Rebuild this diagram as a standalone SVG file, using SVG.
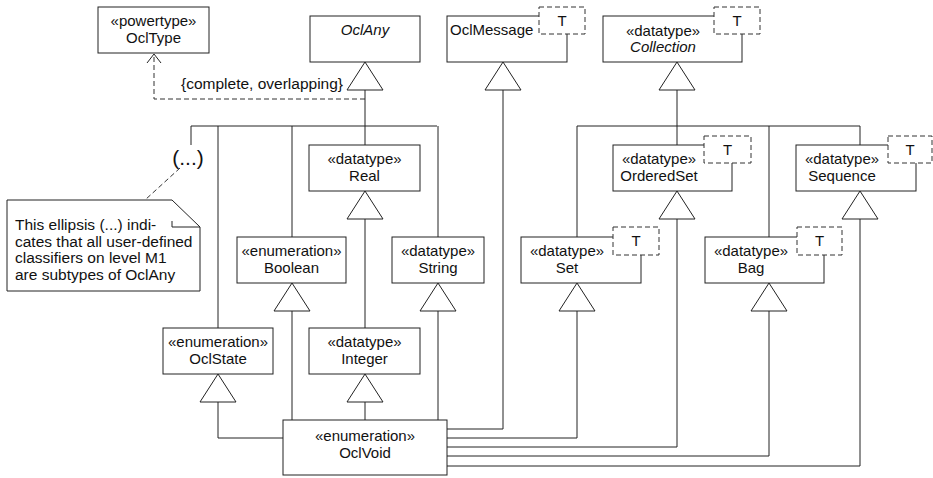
<svg xmlns="http://www.w3.org/2000/svg" width="933" height="478" viewBox="0 0 933 478">
<style>
.box{fill:#fff;stroke:#222;stroke-width:1}
.tb{fill:#fff;stroke:#333;stroke-width:1;stroke-dasharray:5,3}
.ln{fill:none;stroke:#222;stroke-width:1}
.dl{fill:none;stroke:#333;stroke-width:1;stroke-dasharray:5,3}
.tri{fill:#fff;stroke:#222;stroke-width:1}
text{font-family:"Liberation Sans",Arial,sans-serif;font-size:15px;fill:#111}
.c{text-anchor:middle}
.i{font-style:italic}
.n{font-size:15.5px}
</style>
<rect width="933" height="478" fill="#fff"/>
<g id="connectors">
<path class="dl" d="M365,99 H154 V54"/>
<path class="ln" d="M147,63 L154,54 L161,63"/>
<path class="ln" d="M191,126 H437 M577,126 H860"/>
<path class="ln" d="M365,90 V145 M191,126 V145 M218,126 V328 M292,126 V237 M438,126 V237"/>
<path class="ln" d="M365,219 V328 M365,402 V420 M292,311 V420 M438,311 V420 M218,402 V438 H283"/>
<path class="ln" d="M503,90 V429 H447"/>
<path class="ln" d="M677,90 V145 M577,126 V237 M769,126 V237 M860,126 V145"/>
<path class="ln" d="M577,311 V438 H447 M677,219 V447 H447 M769,311 V456 H447 M860,219 V466 H447"/>
<path class="dl" d="M180,168 L145,200"/>
<polygon class="tri" points="365,62 347,90 383,90"/>
<polygon class="tri" points="503,62 485,90 521,90"/>
<polygon class="tri" points="677,62 659,90 695,90"/>
<polygon class="tri" points="365,191 347,219 383,219"/>
<polygon class="tri" points="677,191 659,219 695,219"/>
<polygon class="tri" points="860,191 842,219 878,219"/>
<polygon class="tri" points="292,283 274,311 310,311"/>
<polygon class="tri" points="438,283 420,311 456,311"/>
<polygon class="tri" points="577,283 559,311 595,311"/>
<polygon class="tri" points="769,283 751,311 787,311"/>
<polygon class="tri" points="218,374 200,402 236,402"/>
<polygon class="tri" points="365,374 347,402 383,402"/>
<text x="181" y="89" style="font-size:15.5px">{complete, overlapping}</text>
</g>
<g id="OclType"><rect class="box" x="98" y="7" width="111" height="46"/><text class="c" x="153.5" y="26">«powertype»</text><text class="c" x="153.5" y="43">OclType</text></g>
<g id="OclAny"><rect class="box" x="310" y="16" width="110" height="46"/><text class="c i" x="365" y="35">OclAny</text></g>
<g id="OclMessage"><rect class="box" x="447" y="16" width="120" height="46"/><rect class="tb" x="539" y="7" width="46" height="27"/><text x="450" y="35">OclMessage</text><text class="c" x="562" y="26">T</text></g>
<g id="Collection"><rect class="box" x="603" y="16" width="139" height="46"/><rect class="tb" x="714" y="7" width="46" height="27"/><text class="c" x="663" y="36">«datatype»</text><text class="c i" x="663" y="52">Collection</text><text class="c" x="737" y="26">T</text></g>
<g id="Real"><rect class="box" x="309" y="145" width="111" height="46"/><text class="c" x="364.5" y="164">«datatype»</text><text class="c" x="364.5" y="181">Real</text></g>
<g id="OrderedSet"><rect class="box" x="613" y="145" width="119" height="46"/><rect class="tb" x="704" y="136" width="47" height="27"/><text class="c" x="659" y="164">«datatype»</text><text class="c" x="659" y="181">OrderedSet</text><text class="c" x="727.5" y="155">T</text></g>
<g id="Sequence"><rect class="box" x="796" y="145" width="120" height="46"/><rect class="tb" x="888" y="136" width="44" height="27"/><text class="c" x="842" y="164">«datatype»</text><text class="c" x="842" y="181">Sequence</text><text class="c" x="910" y="155">T</text></g>
<g id="Boolean"><rect class="box" x="237" y="237" width="109" height="46"/><text class="c" x="291.5" y="256">«enumeration»</text><text class="c" x="291.5" y="273">Boolean</text></g>
<g id="String"><rect class="box" x="392" y="237" width="92" height="46"/><text class="c" x="438" y="256">«datatype»</text><text class="c" x="438" y="273">String</text></g>
<g id="Set"><rect class="box" x="521" y="237" width="120" height="46"/><rect class="tb" x="613" y="227" width="46" height="28"/><text class="c" x="567" y="256">«datatype»</text><text class="c" x="567" y="273">Set</text><text class="c" x="636" y="246">T</text></g>
<g id="Bag"><rect class="box" x="705" y="237" width="119" height="46"/><rect class="tb" x="797" y="227" width="45" height="28"/><text class="c" x="751" y="256">«datatype»</text><text class="c" x="751" y="273">Bag</text><text class="c" x="819.5" y="246">T</text></g>
<g id="OclState"><rect class="box" x="163" y="328" width="110" height="46"/><text class="c" x="218" y="347">«enumeration»</text><text class="c" x="218" y="364">OclState</text></g>
<g id="Integer"><rect class="box" x="309" y="328" width="111" height="46"/><text class="c" x="364.5" y="347">«datatype»</text><text class="c" x="364.5" y="364">Integer</text></g>
<g id="OclVoid"><rect class="box" x="283" y="420" width="164" height="55"/><text class="c" x="365" y="441">«enumeration»</text><text class="c" x="365" y="458">OclVoid</text></g>
<g id="Ellipsis"><text class="c" x="188" y="165" style="font-size:21px">(...)</text></g>
<g id="Note">
<polygon class="box" points="7,200 172,200 200,227 200,291 7,291"/>
<path class="ln" d="M172,221 V227 H200"/>
<text class="n" x="15" y="230">This ellipsis (...) indi-</text>
<text class="n" x="15" y="246.5">cates that all user-defined</text>
<text class="n" x="15" y="263">classifiers on level M1</text>
<text class="n" x="15" y="279.5">are subtypes of OclAny</text>
</g>
</svg>
